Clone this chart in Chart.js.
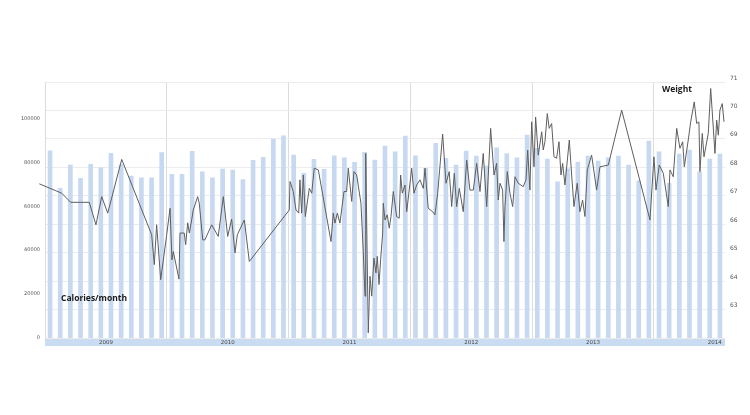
<!DOCTYPE html>
<html>
<head>
<meta charset="utf-8">
<script src="https://cdn.jsdelivr.net/npm/chart.js@4.4.1/dist/chart.umd.min.js"></script>
<style>
  html, body { margin: 0; padding: 0; background: #fff; }
  #wrap { width: 750px; height: 415px; position: relative; }
</style>
</head>
<body>
<div id="wrap"><canvas id="calChart"></canvas></div>
<script>
// Monthly calories (Jan 2009 .. Jul 2014) and weight readings

const years = ['2009', '2010', '2011', '2012', '2013', '2014'];
const calTicks = [0, 20000, 40000, 60000, 80000, 100000];
const kgTicks = [62, 63, 64, 65, 66, 67, 68, 69, 70, 71];

const calories = [
  85270, 68180, 78770, 72730, 79090, 77540, 84090, 79000, 73770, 73000,
  73000, 84450, 74540, 74540, 85000, 75720, 73000, 76950, 76500, 72100,
  80900, 82270, 90580, 92080, 83310, 75000, 81360, 76800, 83000, 82090,
  80000, 84540, 81040, 87400, 84810, 91950, 83000, 77270, 88630, 81810,
  78770, 85130, 82860, 78310, 86630, 84000, 82090, 92400, 86360, 81500,
  71180, 77000, 80100, 82860, 80580, 82090, 82860, 78770, 71630, 89670,
  84810, 70450, 83760, 85580, 75720, 81500, 83760
];

// weight readings: time in months since Jan 2009, value in kg
const weightT = [
  -0.56, 1.65, 2.53, 4.36, 5.02, 5.59, 6.18, 7.56, 10.51, 10.77,
  11.0, 11.4, 11.99, 12.32, 12.51, 12.64, 13.2, 13.3, 13.72, 13.86,
  14.06, 14.22, 14.45, 14.61, 15.04, 15.2, 15.54, 15.76, 16.42, 17.07,
  17.57, 18.0, 18.39, 18.72, 18.95, 19.64, 20.13, 24.07, 24.14, 24.46,
  24.73, 25.0, 25.12, 25.29, 25.45, 25.65, 26.04, 26.28, 26.53, 26.93,
  28.18, 28.4, 28.57, 28.8, 29.06, 29.46, 29.72, 29.88, 30.22, 30.44,
  30.71, 31.13, 31.36, 31.53, 31.6, 31.85, 32.02, 32.19, 32.41, 32.61,
  32.74, 32.91, 33.07, 33.27, 33.33, 33.5, 33.72, 33.92, 34.09, 34.32,
  34.65, 34.9, 35.04, 35.2, 35.47, 35.64, 36.13, 36.35, 36.62, 36.95,
  37.27, 37.44, 37.76, 38.2, 38.42, 38.69, 39.18, 39.51, 39.83, 40.07,
  40.33, 40.56, 40.82, 41.21, 41.55, 41.87, 42.2, 42.53, 42.86, 43.18,
  43.52, 43.91, 44.24, 44.5, 44.66, 44.83, 45.09, 45.22, 45.32, 45.55,
  45.81, 46.08, 46.31, 46.63, 47.12, 47.39, 47.56, 47.78, 47.95, 48.18,
  48.34, 48.6, 48.94, 49.09, 49.26, 49.49, 49.68, 49.92, 50.15, 50.41,
  50.64, 50.84, 51.0, 51.23, 51.66, 51.89, 52.12, 52.44, 52.71, 52.97,
  53.2, 53.43, 53.86, 54.35, 54.68, 55.5, 56.82, 59.61, 60.0, 60.2,
  60.52, 60.92, 61.41, 61.58, 61.9, 62.24, 62.56, 62.83, 62.99, 63.38,
  63.62, 63.97, 64.21, 64.43, 64.53, 64.76, 64.93, 65.35, 65.59, 65.84,
  66.01, 66.18, 66.34, 66.5, 66.73, 66.9
];
const weightKg = [
  67.42, 67.09, 66.77, 66.77, 65.98, 66.97, 66.39, 68.28, 65.63, 64.58,
  65.98, 64.05, 65.63, 66.56, 64.75, 65.04, 64.07, 65.69, 65.69, 65.28,
  66.05, 65.69, 66.15, 66.5, 66.97, 66.74, 65.45, 65.45, 65.98, 65.57,
  66.97, 65.57, 66.18, 64.99, 65.63, 66.15, 64.69, 66.5, 67.5, 67.15,
  66.5, 66.39, 67.56, 66.39, 67.73, 66.27, 67.26, 67.09, 67.97, 67.91,
  65.39, 66.39, 66.04, 66.39, 66.04, 67.15, 67.15, 67.97, 66.8, 67.85,
  67.73, 66.74, 65.04, 63.47, 68.49, 62.18, 64.17, 63.47, 64.81, 64.29,
  64.87, 63.88, 64.75, 65.69, 66.74, 66.15, 66.33, 65.86, 66.27, 67.15,
  66.27, 66.21, 67.73, 67.09, 67.38, 66.44, 67.97, 67.09, 67.38, 67.56,
  67.26, 67.97, 66.56, 66.44, 66.33, 67.09, 69.17, 67.44, 67.85, 66.62,
  67.79, 66.62, 67.26, 66.44, 68.26, 67.2, 67.2, 68.14, 67.15, 68.49,
  66.62, 69.37, 67.73, 68.14, 66.85, 67.44, 67.2, 65.39, 66.62, 67.85,
  67.09, 66.62, 67.67, 67.44, 67.32, 67.56, 68.61, 67.2, 69.6, 68.02,
  69.77, 68.43, 69.25, 68.61, 68.9, 69.89, 69.37, 69.54, 68.37, 68.32,
  68.9, 67.73, 68.14, 67.38, 68.96, 67.73, 66.62, 67.44, 66.44, 66.85,
  66.27, 67.91, 68.43, 67.2, 68.02, 68.08, 70.01, 66.15, 68.37, 67.2,
  68.08, 67.79, 66.62, 67.91, 67.67, 69.37, 68.67, 68.9, 68.02, 68.96,
  69.6, 70.3, 69.54, 69.6, 67.85, 69.19, 68.37, 69.19, 70.77, 69.42,
  68.49, 69.66, 69.13, 70.01, 70.24, 69.6
];

const barData = calories.map((v, i) => ({ x: i + 0.5, y: v }));
const lineData = weightT.map((t, i) => ({ x: t, y: weightKg[i] }));

// light blue strip under the plot + the two text notes
const decor = {
  id: 'decor',
  beforeDraw(chart) {
    const { ctx, chartArea: a } = chart;
    ctx.save();
    ctx.fillStyle = '#cadcf2';
    ctx.fillRect(a.left, a.bottom, a.right - a.left, 8);
    ctx.restore();
  },
  afterDraw(chart) {
    const { ctx, chartArea: a } = chart;
    ctx.save();
    ctx.fillStyle = '#1a1a1a';
    ctx.font = 'bold 8.5px "Open Sans", sans-serif';
    ctx.textBaseline = 'middle';
    ctx.fillText('Calories/month', a.left + 16, 299);
    ctx.fillText('Weight', 662, 90);
    ctx.restore();
  }
};

const ctx = document.getElementById('calChart').getContext('2d');

new Chart(ctx, {
  type: 'bar',
  data: {
    datasets: [
      {
        type: 'line',
        label: 'Weight',
        data: lineData,
        yAxisID: 'y2',
        borderColor: '#5e5e5e',
        borderWidth: 1,
        pointRadius: 0,
        tension: 0,
        clip: false,
        order: 0
      },
      {
        label: 'Calories/month',
        data: barData,
        yAxisID: 'y',
        backgroundColor: '#c6d9f0',
        barThickness: 4,
        order: 1
      }
    ]
  },
  options: {
    responsive: true,
    maintainAspectRatio: false,
    animation: false,
    layout: { padding: { top: 82, left: 0, right: 0, bottom: 0 } },
    plugins: {
      legend: { display: false },
      tooltip: { enabled: false }
    },
    scales: {
      x: {
        type: 'linear',
        min: 0,
        max: 67,
        offset: false,
        afterBuildTicks: s => {
          s.ticks = [];
          for (let v = 0; v <= 66; v += 6) s.ticks.push({ value: v });
        },
        afterFit: s => { s.height = 77; },
        grid: {
          offset: false,
          drawTicks: false,
          color: c => (c.tick && c.tick.value % 12 === 0 && c.tick.value > 0) ? '#dcdcdc' : 'transparent'
        },
        border: { display: false },
        ticks: {
          autoSkip: false,
          maxRotation: 0,
          padding: 1,
          color: '#444',
          font: { family: 'DejaVu Sans', size: 5.5 },
          callback: v => (v % 12 === 6) ? years[(v - 6) / 12] : ''
        }
      },
      y: {
        position: 'left',
        min: 0,
        max: 116600,
        afterBuildTicks: s => { s.ticks = calTicks.map(v => ({ value: v })); },
        afterFit: s => { s.width = 45; },
        grid: { display: false, drawTicks: false },
        border: { display: true, color: '#dcdcdc' },
        ticks: {
          autoSkip: false,
          padding: 5,
          color: '#555',
          font: { family: 'DejaVu Sans', size: 5 },
          callback: v => String(v)
        }
      },
      y2: {
        position: 'right',
        min: 62,
        max: 71,
        afterBuildTicks: s => { s.ticks = kgTicks.map(v => ({ value: v })); },
        afterFit: s => { s.width = 25; },
        grid: { color: '#ececec', drawTicks: false },
        border: { display: false },
        ticks: {
          autoSkip: false,
          padding: 5,
          labelOffset: -4,
          color: '#555',
          font: { family: 'DejaVu Sans', size: 6 },
          callback: v => (v > 62) ? String(v) : ''
        }
      }
    }
  },
  plugins: [decor]
});
</script>
</body>
</html>
